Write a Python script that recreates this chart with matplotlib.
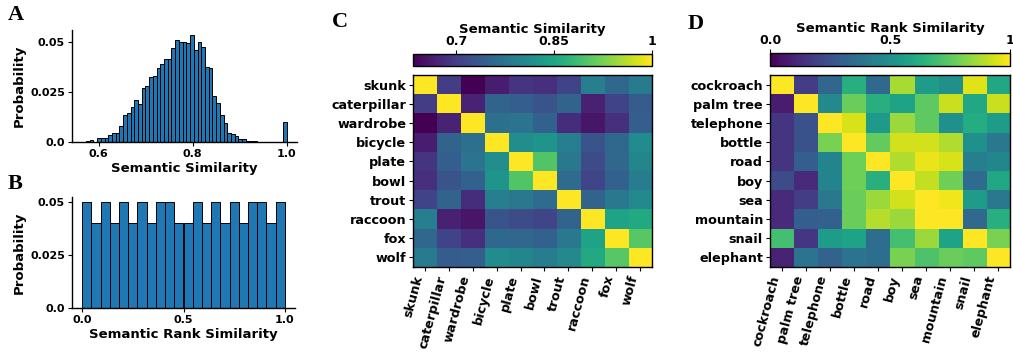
import numpy as np
import matplotlib
matplotlib.use("Agg")
import matplotlib.pyplot as plt

plt.rcParams['font.family'] = ['DejaVu Sans']
plt.rcParams['font.weight'] = 'bold'

# ---------------- data ----------------
# Panel A: histogram of semantic similarity (55 equal bins over [0.565, 1.0])
sim_range = [0.565, 1.0]
sim_probs = [0.0002, 0.0003, 0.0008, 0.0002, 0.0022, 0.0020, 0.0022, 0.0034, 0.0047, 0.0047,
             0.0079, 0.0134, 0.0143, 0.0176, 0.0208, 0.0190, 0.0272, 0.0279, 0.0327, 0.0330,
             0.0369, 0.0390, 0.0416, 0.0414, 0.0470, 0.0512, 0.0500, 0.0498, 0.0493, 0.0533,
             0.0460, 0.0498, 0.0475, 0.0377, 0.0370, 0.0232, 0.0195, 0.0134, 0.0097, 0.0047,
             0.0042, 0.0028, 0.0013, 0.0015, 0.0004, 0.0005, 0.0003, 0.0002, 0.0002, 0.0,
             0.0, 0.0, 0.0, 0.0, 0.0101]

# Panel B: histogram of semantic rank similarity (22 equal bins over [0, 1])
rank_range = [0.0, 1.0]
rank_probs = [0.05, 0.04, 0.05, 0.04, 0.05, 0.04, 0.05, 0.04, 0.05, 0.05, 0.04,
              0.04, 0.05, 0.04, 0.05, 0.04, 0.05, 0.04, 0.05, 0.05, 0.04, 0.05]

# Panel C: semantic similarity matrix
words_c = ["skunk", "caterpillar", "wardrobe", "bicycle", "plate", "bowl",
           "trout", "raccoon", "fox", "wolf"]
sim_matrix = [
    [1.000, 0.700, 0.634, 0.663, 0.689, 0.685, 0.707, 0.791, 0.758, 0.784],
    [0.700, 1.000, 0.671, 0.751, 0.744, 0.729, 0.751, 0.667, 0.707, 0.740],
    [0.634, 0.671, 1.000, 0.769, 0.773, 0.747, 0.682, 0.656, 0.685, 0.744],
    [0.663, 0.751, 0.769, 1.000, 0.813, 0.824, 0.791, 0.729, 0.758, 0.810],
    [0.689, 0.744, 0.773, 0.813, 1.000, 0.901, 0.780, 0.718, 0.755, 0.802],
    [0.685, 0.729, 0.747, 0.824, 0.901, 1.000, 0.762, 0.711, 0.747, 0.788],
    [0.707, 0.751, 0.682, 0.791, 0.780, 0.762, 1.000, 0.751, 0.780, 0.806],
    [0.791, 0.667, 0.656, 0.729, 0.718, 0.711, 0.751, 1.000, 0.846, 0.857],
    [0.758, 0.707, 0.685, 0.758, 0.755, 0.747, 0.780, 0.846, 1.000, 0.905],
    [0.784, 0.740, 0.744, 0.810, 0.802, 0.788, 0.806, 0.857, 0.905, 1.000],
]
sim_cbar_ticks = [0.7, 0.85, 1.0]
sim_cbar_labels = ["0.7", "0.85", "1"]

# Panel D: semantic rank similarity matrix
words_d = ["cockroach", "palm tree", "telephone", "bottle", "road", "boy",
           "sea", "mountain", "snail", "elephant"]
rank_matrix = [
    [1.00, 0.18, 0.33, 0.63, 0.34, 0.87, 0.55, 0.50, 0.95, 0.60],
    [0.08, 1.00, 0.47, 0.77, 0.63, 0.58, 0.75, 0.92, 0.60, 0.92],
    [0.15, 0.25, 1.00, 0.94, 0.54, 0.85, 0.75, 0.50, 0.62, 0.55],
    [0.15, 0.25, 0.80, 1.00, 0.76, 0.93, 0.93, 0.88, 0.50, 0.40],
    [0.15, 0.30, 0.45, 0.78, 1.00, 0.88, 0.97, 0.94, 0.43, 0.46],
    [0.23, 0.12, 0.45, 0.78, 0.63, 1.00, 0.91, 0.78, 0.35, 0.60],
    [0.12, 0.18, 0.40, 0.77, 0.85, 0.93, 1.00, 0.98, 0.55, 0.40],
    [0.12, 0.30, 0.31, 0.77, 0.89, 0.85, 1.00, 1.00, 0.34, 0.63],
    [0.70, 0.16, 0.55, 0.58, 0.36, 0.70, 0.85, 0.58, 1.00, 0.80],
    [0.10, 0.38, 0.32, 0.38, 0.36, 0.80, 0.72, 0.77, 0.75, 1.00],
]
rank_cbar_ticks = [0.0, 0.5, 1.0]
rank_cbar_labels = ["0.0", "0.5", "1"]

# ---------------- layout ----------------
W, H = 1013, 354
fig = plt.figure(figsize=(W / 100, H / 100), dpi=100)

def box(l, t, r, b):
    return [l / W, 1 - b / H, (r - l) / W, (b - t) / H]

TICK_FS = 8
LABEL_FS = 9.5
HEAT_FS = 9.2
BAR_COLOR = '#1f77b4'

def style_hist(ax):
    for s in ['top', 'right']:
        ax.spines[s].set_visible(False)
    for s in ['left', 'bottom']:
        ax.spines[s].set_linewidth(1.0)
    ax.tick_params(labelsize=TICK_FS, length=3, width=0.8, pad=2)
    for lab in ax.get_xticklabels() + ax.get_yticklabels():
        lab.set_fontweight('bold')

# Panel A
axA = fig.add_axes(box(72, 30, 297, 142))
edgesA = np.linspace(sim_range[0], sim_range[1], len(sim_probs) + 1)
axA.bar(edgesA[:-1], sim_probs, width=np.diff(edgesA), align='edge',
        color=BAR_COLOR, edgecolor='black', linewidth=0.7)
axA.set_xticks([0.6, 0.8, 1.0])
axA.set_xticklabels(["0.6", "0.8", "1.0"])
axA.set_yticks([0.0, 0.025, 0.05])
axA.set_yticklabels(["0.0", "0.025", "0.05"])
axA.set_xlabel("Semantic Similarity", fontsize=LABEL_FS, fontweight='bold', labelpad=2)
axA.set_ylabel("Probability", fontsize=LABEL_FS, fontweight='bold', labelpad=3)
style_hist(axA)

# Panel B
axB = fig.add_axes(box(72, 197, 295, 308))
edgesB = np.linspace(rank_range[0], rank_range[1], len(rank_probs) + 1)
axB.bar(edgesB[:-1], rank_probs, width=np.diff(edgesB), align='edge',
        color=BAR_COLOR, edgecolor='black', linewidth=0.7)
axB.set_xticks([0.0, 0.5, 1.0])
axB.set_xticklabels(["0.0", "0.5", "1.0"])
axB.set_yticks([0.0, 0.025, 0.05])
axB.set_yticklabels(["0.0", "0.025", "0.05"])
axB.set_xlabel("Semantic Rank Similarity", fontsize=LABEL_FS, fontweight='bold', labelpad=2)
axB.set_ylabel("Probability", fontsize=LABEL_FS, fontweight='bold', labelpad=3)
style_hist(axB)

def heatmap(hbox, cbox, mat, words, vmin, vmax, cticks, clabels, ctitle):
    ax = fig.add_axes(box(*hbox))
    im = ax.imshow(np.array(mat), cmap='viridis', vmin=vmin, vmax=vmax,
                   aspect='auto', interpolation='nearest')
    n = len(words)
    ax.set_xticks(range(n))
    ax.set_yticks(range(n))
    ax.set_xticklabels(words, rotation=75, ha='right', fontsize=HEAT_FS,
                       fontweight='bold')
    ax.set_yticklabels(words, fontsize=HEAT_FS, fontweight='bold')
    ax.tick_params(length=3, width=0.8, pad=2)
    for s in ax.spines.values():
        s.set_linewidth(1.0)
    cax = fig.add_axes(box(*cbox))
    cb = fig.colorbar(im, cax=cax, orientation='horizontal')
    cb.set_ticks(cticks)
    cb.set_ticklabels(clabels)
    cax.xaxis.set_ticks_position('top')
    cax.xaxis.set_label_position('top')
    cax.tick_params(labelsize=9, length=3, width=0.8, pad=1)
    for lab in cax.get_xticklabels():
        lab.set_fontweight('bold')
    cb.set_label(ctitle, fontsize=LABEL_FS, fontweight='bold', labelpad=2)
    cb.outline.set_linewidth(1.0)
    return ax

heatmap((413, 75, 652, 267), (413, 54, 652, 66), sim_matrix, words_c,
        min(min(r) for r in sim_matrix), 1.0, sim_cbar_ticks, sim_cbar_labels,
        "Semantic Similarity")
heatmap((770, 75, 1010, 267), (770, 53, 1010, 66), rank_matrix, words_d,
        0.0, 1.0, rank_cbar_ticks, rank_cbar_labels, "Semantic Rank Similarity")

# panel letters
for letter, x, y in [("A", 8, 5), ("B", 8, 174), ("C", 332, 12), ("D", 688, 14)]:
    fig.text(x / W, 1 - y / H, letter, fontsize=16, fontweight='bold',
             family=['Liberation Serif', 'DejaVu Serif'], va='top', ha='left')

fig.savefig("out.png", dpi=100)
